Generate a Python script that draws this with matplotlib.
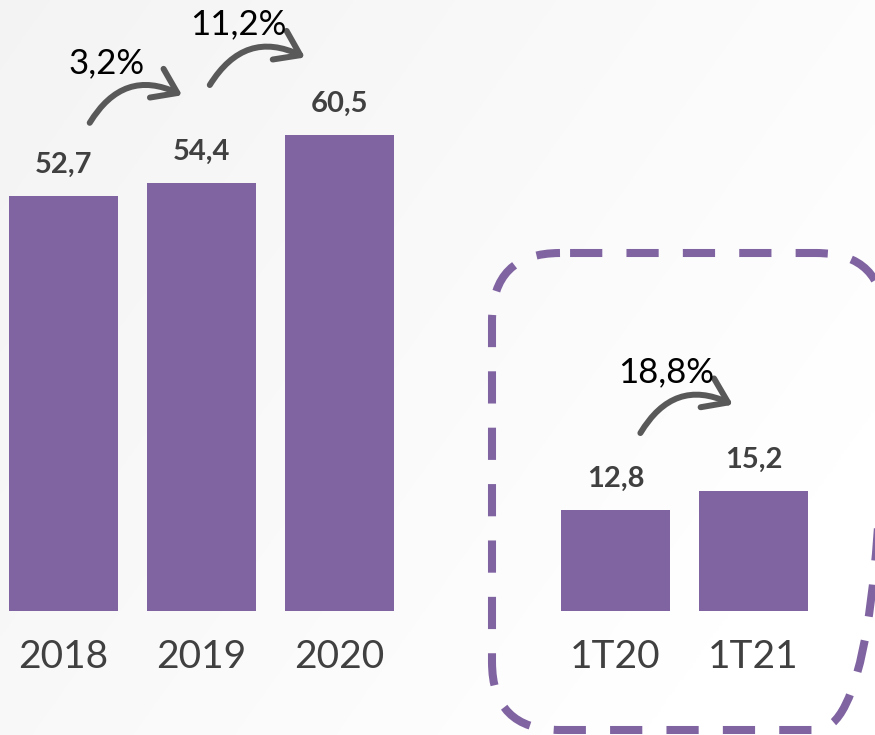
import numpy as np
import matplotlib.pyplot as plt
from matplotlib.patches import FancyArrowPatch, FancyBboxPatch

plt.rcParams['font.family'] = ['Lato', 'DejaVu Sans']

# data
labels = ['2018', '2019', '2020', '1T20', '1T21']
values = [52.7, 54.4, 60.5, 12.8, 15.2]
positions = [0, 1, 2, 4, 5]
growth_labels = ['3,2%', '11,2%', '18,8%']
growth_pairs = [(0, 1), (1, 2), (3, 4)]

purple = '#8064A2'
grey_text = '#404040'
arrow_grey = '#595959'

fig = plt.figure(figsize=(8.75, 7.35), dpi=100)

# very light diagonal background gradient
bg = fig.add_axes([0, 0, 1, 1], zorder=-10)
gx, gy = np.meshgrid(np.linspace(0, 1, 300), np.linspace(0, 1, 300))
g = np.clip(0.75 * gx + 0.45 * gy, 0, 1)
shade = 0.955 + 0.045 * g
bg.imshow(np.dstack([shade, shade, shade]), extent=[0, 1, 0, 1],
          aspect='auto', origin='upper')
bg.axis('off')

ax = fig.add_axes([0, 124 / 735, 1, 611 / 735])
ax.patch.set_alpha(0)
bars = ax.bar(positions, values, width=0.79, color=purple)
ax.set_xlim(-0.46, 5.88)
ax.set_ylim(0, 77.6)

ax.set_xticks(positions)
ax.set_xticklabels(labels, fontsize=28, color=grey_text)
ax.tick_params(axis='x', length=0, pad=20)
ax.set_yticks([])
for s in ax.spines.values():
    s.set_visible(False)

ax.bar_label(bars, labels=[f'{v:.1f}'.replace('.', ',') for v in values],
             padding=13, fontsize=21, fontweight='bold', color=grey_text)

# growth arrows (offsets relative to the bars they connect)
arrow_dx = [(0.19, -0.14), (0.06, -0.25), (0.18, -0.15)]
arrow_dy = [(9.3, 11.1), (12.4, 9.8), (9.8, 11.0)]
text_pos = [(0.31, 16.9), (0.265, 20.1), (0.37, 17.5)]
for (i, j), lab, (dxa, dxb), (dya, dyb), (tx, ty) in zip(
        growth_pairs, growth_labels, arrow_dx, arrow_dy, text_pos):
    xa, xb = positions[i] + dxa, positions[j] + dxb
    ya, yb = values[i] + dya, values[j] + dyb
    arr = FancyArrowPatch((xa, ya), (xb, yb),
                          connectionstyle='arc3,rad=-0.45',
                          arrowstyle='->,head_length=0.75,head_width=0.52',
                          mutation_scale=22, lw=4.3, color=arrow_grey,
                          shrinkA=0, shrinkB=0, capstyle='round',
                          joinstyle='round', clip_on=False)
    ax.add_patch(arr)
    ax.text(positions[i] + tx, values[i] + ty, lab, fontsize=25,
            color='black', ha='center', va='center')

# dashed rounded frame around the quarterly bars (pixel overlay)
ov = fig.add_axes([0, 0, 1, 1], zorder=5)
ov.set_xlim(0, 875)
ov.set_ylim(735, 0)
ov.axis('off')
box = FancyBboxPatch((492, 253), 884 - 492, 730 - 253,
                     boxstyle='round,pad=0,rounding_size=68',
                     fill=False, edgecolor=purple, lw=5.8,
                     linestyle=(5.75, (4, 3)), clip_on=False)
ov.add_patch(box)

plt.savefig('out.png', dpi=100)
